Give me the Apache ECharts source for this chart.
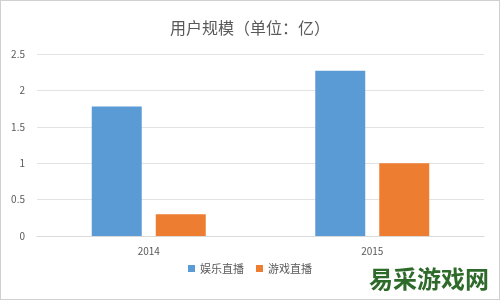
<!DOCTYPE html>
<html><head><meta charset="utf-8">
<script src="https://cdn.jsdelivr.net/npm/echarts@6/dist/echarts.min.js"></script>
<style>html,body{margin:0;padding:0;background:#fff}#c{width:500px;height:300px;box-sizing:border-box;border:1px solid #d0d0d0}</style>
</head><body><div id="c"></div>
<script>
var categories = ['2014', '2015'];
var seriesNames = ['娱乐直播', '游戏直播'];
var entertainment = [1.78, 2.27];
var gaming = [0.3, 1.0];
var chart = echarts.init(document.getElementById('c'));
var font = '"Noto Sans CJK SC", "Microsoft YaHei", sans-serif';
chart.setOption({
  animation: false,
  title: { text: '用户规模（单位：亿）', left: 'center', top: 14,
    textStyle: { fontFamily: font, fontSize: 16, fontWeight: 'normal', color: '#595959' } },
  legend: { bottom: 20, left: 'center', itemWidth: 7, itemHeight: 7, itemGap: 12,
    icon: 'rect', textStyle: { fontFamily: font, fontSize: 11, color: '#595959' }, data: seriesNames },
  grid: { left: 36, right: 15, top: 53, bottom: 63 },
  xAxis: { type: 'category', data: categories,
    axisLine: { lineStyle: { color: '#d9d9d9' } }, axisTick: { show: false },
    axisLabel: { color: '#595959', fontSize: 10, margin: 10, fontFamily: font } },
  yAxis: { type: 'value', min: 0, max: 2.5, interval: 0.5,
    axisLine: { show: false }, axisTick: { show: false },
    splitLine: { lineStyle: { color: '#e3e3e3' } },
    axisLabel: { color: '#595959', fontSize: 10, margin: 12, fontFamily: font } },
  series: [
    { name: seriesNames[0], type: 'bar', data: entertainment, barWidth: 50, barGap: '28%',
      itemStyle: { color: '#5b9bd5' } },
    { name: seriesNames[1], type: 'bar', data: gaming, barWidth: 50,
      itemStyle: { color: '#ed7d31' } }
  ],
  graphic: [{ type: 'text', right: 10, bottom: 8,
    style: { text: '易采游戏网', fontSize: 24, fontWeight: 'bold', fill: '#2e6b2a',
      fontFamily: '"Noto Sans CJK SC", sans-serif' } }]
});
</script></body></html>
